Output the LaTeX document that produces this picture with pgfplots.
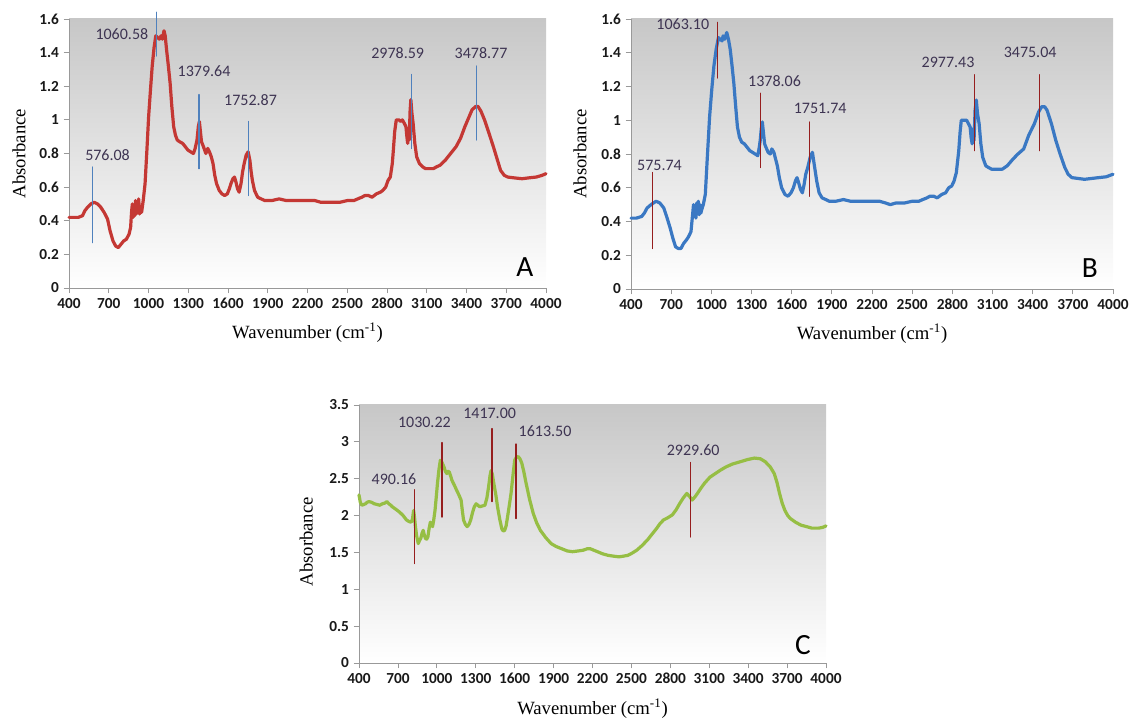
\documentclass[border=0pt]{standalone}
\usepackage{fontspec}
\setmainfont{Liberation Serif}
\newfontfamily\calib{Carlito}
\usepackage{pgfplots}
\pgfplotsset{compat=1.18}

\definecolor{cA}{RGB}{196,56,52}
\definecolor{cB}{RGB}{58,120,195}
\definecolor{cC}{RGB}{150,190,68}
\definecolor{lblue}{RGB}{79,129,189}
\definecolor{lred}{RGB}{150,30,30}
\definecolor{annot}{RGB}{62,52,82}

\tikzset{
  ann/.style={font=\calib\fontsize{12}{14}\selectfont, text=annot, anchor=center},
  letter/.style={font=\calib\fontsize{22}{24}\selectfont, text=black, anchor=center},
}

\pgfplotsset{irstyle/.style={
  scale only axis, anchor=south west,
  xmin=400, xmax=4000, xtick={400,700,...,4000},
  axis x line*=bottom, axis y line*=left,
  axis line style={gray!80, line width=0.6pt},
  tick style={gray!80, line width=0.6pt},
  major tick length=4pt, tick align=outside,
  /pgf/number format/assume math mode=true,
  /pgf/number format/1000 sep={},
  scaled ticks=false,
  ticklabel style={font=\calib\bfseries\fontsize{11.5}{12}\selectfont, text=black!90},
  label style={font=\fontsize{14}{16}\selectfont},
  xlabel={Wavenumber (cm\textsuperscript{-1})},
  ylabel={Absorbance},
  axis background/.style={top color=black!22, bottom color=white},
  clip=false,
  every axis plot/.append style={line join=round, line cap=round},
}}

\pgfplotstableread{
x y
400 0.42
430 0.42
470 0.42
502 0.43
520 0.46
540 0.48
565 0.50
590 0.51
615 0.50
640 0.48
665 0.45
691 0.41
710 0.34
732 0.28
752 0.25
772 0.24
792 0.26
813 0.28
833 0.29
853 0.32
865 0.36
872 0.45
878 0.50
884 0.42
890 0.48
896 0.43
902 0.52
908 0.44
914 0.51
920 0.45
926 0.53
932 0.44
940 0.47
948 0.45
960 0.52
974 0.62
988 0.82
1001 1.02
1015 1.18
1028 1.32
1042 1.43
1055 1.50
1068 1.49
1082 1.48
1095 1.50
1105 1.48
1117 1.53
1126 1.50
1136 1.42
1150 1.32
1163 1.22
1176 1.08
1190 0.96
1203 0.91
1217 0.88
1235 0.87
1258 0.86
1278 0.84
1298 0.82
1318 0.81
1339 0.80
1352 0.83
1366 0.88
1376 0.96
1384 0.99
1392 0.93
1400 0.87
1415 0.84
1433 0.80
1447 0.83
1460 0.81
1474 0.78
1487 0.74
1500 0.67
1514 0.62
1534 0.58
1554 0.56
1575 0.55
1595 0.56
1610 0.59
1622 0.62
1637 0.65
1649 0.66
1660 0.63
1672 0.59
1684 0.57
1698 0.62
1710 0.69
1722 0.74
1737 0.79
1752 0.81
1765 0.76
1775 0.69
1784 0.64
1800 0.58
1824 0.54
1850 0.53
1878 0.52
1930 0.52
1986 0.53
2040 0.52
2121 0.52
2200 0.52
2256 0.52
2300 0.51
2337 0.51
2380 0.51
2445 0.51
2500 0.52
2550 0.52
2579 0.53
2610 0.54
2633 0.55
2660 0.55
2687 0.54
2720 0.56
2750 0.57
2768 0.58
2790 0.60
2808 0.64
2825 0.66
2840 0.74
2848 0.82
2858 0.93
2870 1.00
2890 1.00
2905 0.99
2916 1.00
2930 0.98
2943 0.96
2950 0.90
2956 0.86
2962 0.95
2968 0.88
2974 1.05
2980 1.12
2988 1.04
2997 0.98
3010 0.86
3024 0.78
3045 0.74
3070 0.72
3091 0.71
3120 0.71
3150 0.71
3172 0.72
3200 0.73
3240 0.76
3280 0.80
3321 0.84
3355 0.89
3388 0.96
3415 1.01
3442 1.06
3470 1.08
3487 1.08
3510 1.05
3536 1.00
3570 0.92
3603 0.84
3630 0.77
3657 0.70
3685 0.67
3711 0.66
3760 0.655
3819 0.65
3870 0.655
3927 0.66
3970 0.67
4000 0.68
}\dataA

\pgfplotstableread{
x y
400 0.42
440 0.42
480 0.43
500 0.45
520 0.48
550 0.50
587 0.52
615 0.51
645 0.48
670 0.42
693 0.36
713 0.30
733 0.25
753 0.24
773 0.24
793 0.27
813 0.29
830 0.31
848 0.34
860 0.44
867 0.50
873 0.43
879 0.49
885 0.42
891 0.51
897 0.45
903 0.52
909 0.44
915 0.50
922 0.45
928 0.47
940 0.50
955 0.56
970 0.78
987 1.02
1003 1.18
1019 1.32
1036 1.42
1053 1.49
1066 1.48
1080 1.47
1088 1.50
1100 1.48
1115 1.52
1128 1.48
1141 1.42
1155 1.32
1168 1.22
1182 1.08
1195 0.96
1210 0.90
1227 0.87
1247 0.86
1267 0.84
1287 0.82
1307 0.81
1327 0.80
1347 0.79
1358 0.84
1365 0.88
1373 0.95
1381 0.99
1390 0.92
1398 0.86
1408 0.84
1424 0.81
1440 0.80
1452 0.83
1467 0.81
1480 0.77
1493 0.73
1508 0.66
1525 0.60
1550 0.56
1573 0.55
1595 0.57
1613 0.60
1628 0.64
1640 0.66
1652 0.63
1666 0.59
1680 0.57
1693 0.62
1705 0.68
1720 0.72
1738 0.78
1755 0.81
1770 0.73
1787 0.64
1805 0.57
1827 0.54
1855 0.53
1880 0.52
1930 0.52
1986 0.53
2040 0.52
2121 0.52
2200 0.52
2256 0.52
2300 0.51
2337 0.50
2380 0.51
2445 0.51
2500 0.52
2550 0.52
2579 0.53
2610 0.54
2633 0.55
2660 0.55
2687 0.54
2720 0.56
2750 0.57
2773 0.60
2795 0.61
2813 0.64
2830 0.69
2848 0.82
2858 0.93
2867 1.00
2890 1.00
2907 1.00
2920 0.98
2933 0.96
2940 0.90
2948 0.86
2955 0.95
2962 0.88
2970 1.06
2979 1.12
2988 1.04
3000 0.98
3013 0.86
3027 0.78
3050 0.73
3070 0.72
3093 0.71
3130 0.71
3173 0.71
3210 0.73
3253 0.77
3290 0.80
3333 0.83
3370 0.91
3413 0.98
3445 1.05
3467 1.08
3490 1.08
3507 1.06
3540 0.98
3573 0.88
3605 0.80
3640 0.72
3665 0.68
3693 0.66
3740 0.655
3787 0.65
3840 0.655
3893 0.66
3950 0.665
4000 0.68
}\dataB

\pgfplotstableread{
x y
400 2.28
410 2.18
422 2.14
436 2.15
450 2.16
463 2.18
477 2.19
497 2.18
518 2.16
540 2.15
560 2.14
580 2.16
600 2.17
615 2.19
630 2.16
645 2.14
656 2.12
680 2.09
711 2.05
740 2.00
766 1.94
785 1.92
802 1.91
812 1.95
821 2.07
828 1.98
835 1.85
845 1.72
857 1.62
866 1.66
876 1.69
886 1.76
895 1.80
903 1.74
912 1.69
922 1.68
931 1.71
940 1.82
950 1.91
958 1.88
967 1.85
976 1.94
986 2.07
995 2.24
1005 2.44
1016 2.62
1027 2.75
1040 2.72
1055 2.66
1066 2.60
1077 2.57
1086 2.60
1096 2.59
1106 2.54
1116 2.48
1133 2.42
1151 2.35
1170 2.28
1187 2.21
1197 2.06
1206 1.94
1220 1.88
1234 1.85
1248 1.88
1261 1.94
1275 2.04
1289 2.12
1303 2.16
1316 2.14
1330 2.12
1350 2.13
1371 2.14
1386 2.24
1399 2.39
1410 2.54
1418 2.61
1428 2.56
1440 2.43
1455 2.28
1468 2.12
1485 1.95
1501 1.82
1512 1.79
1523 1.80
1534 1.86
1545 1.98
1558 2.13
1572 2.30
1586 2.53
1600 2.75
1613 2.79
1627 2.80
1641 2.77
1655 2.71
1670 2.60
1688 2.44
1715 2.22
1743 2.03
1770 1.90
1798 1.80
1840 1.70
1881 1.62
1920 1.58
1963 1.55
2005 1.52
2046 1.51
2090 1.52
2128 1.53
2160 1.55
2183 1.55
2210 1.53
2238 1.51
2280 1.48
2321 1.46
2360 1.45
2404 1.44
2440 1.45
2472 1.46
2505 1.49
2541 1.53
2580 1.59
2624 1.67
2660 1.75
2692 1.82
2720 1.89
2747 1.94
2780 1.97
2816 2.01
2845 2.08
2871 2.16
2900 2.24
2927 2.30
2948 2.26
2968 2.21
2988 2.25
3009 2.30
3035 2.37
3064 2.44
3105 2.52
3147 2.57
3190 2.62
3229 2.66
3280 2.70
3339 2.73
3395 2.76
3449 2.78
3495 2.77
3532 2.73
3570 2.66
3601 2.57
3622 2.45
3642 2.30
3662 2.17
3683 2.07
3705 2.00
3725 1.96
3765 1.91
3807 1.87
3850 1.85
3890 1.83
3945 1.83
3975 1.84
4000 1.86
}\dataC

\begin{document}
\begin{tikzpicture}
\useasboundingbox (0,0) rectangle (849.75pt,538.5pt);

% ---------------- A ----------------
\begin{axis}[irstyle,
  at={(51.75pt,322.5pt)}, width=357.75pt, height=201.75pt,
  ymin=0, ymax=1.6, ytick={0,0.2,...,1.6},
  xlabel style={at={(axis description cs:0.5,-0.167)}, anchor=center},
  ylabel style={at={(axis description cs:-0.105,0.5)}, anchor=center},
]
\addplot[cA, line width=2.4pt] table[x=x,y=y] {\dataA};
\addplot[lblue, line width=1pt] coordinates {(577,0.27) (577,0.72)};
\addplot[lblue, line width=1pt] coordinates {(1062,1.38) (1062,1.64)};
\addplot[lblue, line width=1pt] coordinates {(1382,0.71) (1382,1.15)};
\addplot[lblue, line width=1pt] coordinates {(1755,0.55) (1755,0.99)};
\addplot[lblue, line width=1pt] coordinates {(2985,0.83) (2985,1.27)};
\addplot[lblue, line width=1pt] coordinates {(3476,0.88) (3476,1.32)};
\node[ann] at (axis cs:691,0.79) {576.08};
\node[ann] at (axis cs:799,1.51) {1060.58};
\node[ann] at (axis cs:1419,1.29) {1379.64};
\node[ann] at (axis cs:1770,1.12) {1752.87};
\node[ann] at (axis cs:2881,1.40) {2978.59};
\node[ann] at (axis cs:3510,1.40) {3478.77};
\node[letter] at (axis cs:3841,0.125) {A};
\end{axis}

% ---------------- B ----------------
\begin{axis}[irstyle,
  at={(473.25pt,321.75pt)}, width=361.5pt, height=202.5pt,
  ymin=0, ymax=1.6, ytick={0,0.2,...,1.6},
  xlabel style={at={(axis description cs:0.5,-0.167)}, anchor=center},
  ylabel style={at={(axis description cs:-0.106,0.5)}, anchor=center},
]
\addplot[cB, line width=2.4pt] table[x=x,y=y] {\dataB};
\addplot[lred, line width=1pt] coordinates {(560,0.24) (560,0.69)};
\addplot[lred, line width=1pt] coordinates {(1048,1.25) (1048,1.58)};
\addplot[lred, line width=1pt] coordinates {(1365,0.72) (1365,1.16)};
\addplot[lred, line width=1pt] coordinates {(1733,0.55) (1733,0.99)};
\addplot[lred, line width=1pt] coordinates {(2968,0.82) (2968,1.27)};
\addplot[lred, line width=1pt] coordinates {(3453,0.82) (3453,1.27)};
\node[ann] at (axis cs:613,0.73) {575.74};
\node[ann] at (axis cs:787,1.57) {1063.10};
\node[ann] at (axis cs:1472,1.23) {1378.06};
\node[ann] at (axis cs:1813,1.07) {1751.74};
\node[ann] at (axis cs:2768,1.34) {2977.43};
\node[ann] at (axis cs:3381,1.40) {3475.04};
\node[letter] at (axis cs:3828,0.125) {B};
\end{axis}

% ---------------- C ----------------
\begin{axis}[irstyle,
  at={(269.25pt,41.25pt)}, width=350.25pt, height=193.5pt,
  ymin=0, ymax=3.5, ytick={0,0.5,...,3.5},
  xlabel style={at={(axis description cs:0.5,-0.178)}, anchor=center},
  ylabel style={at={(axis description cs:-0.113,0.47)}, anchor=center},
]
\addplot[cC, line width=2.4pt] table[x=x,y=y] {\dataC};
\addplot[lred, line width=1pt] coordinates {(827,1.35) (827,2.35)};
\addplot[lred, line width=1pt] coordinates {(1041,1.98) (1041,2.99)};
\addplot[lred, line width=1pt] coordinates {(1426,2.19) (1426,3.18)};
\addplot[lred, line width=1pt] coordinates {(1611,1.96) (1611,2.97)};
\addplot[lred, line width=1pt] coordinates {(2954,1.71) (2954,2.72)};
\node[ann] at (axis cs:670,2.50) {490.16};
\node[ann] at (axis cs:904,3.27) {1030.22};
\node[ann] at (axis cs:1407,3.39) {1417.00};
\node[ann] at (axis cs:1834,3.14) {1613.50};
\node[ann] at (axis cs:2976,2.89) {2929.60};
\node[letter] at (axis cs:3823,0.244) {C};
\end{axis}
\end{tikzpicture}
\end{document}
